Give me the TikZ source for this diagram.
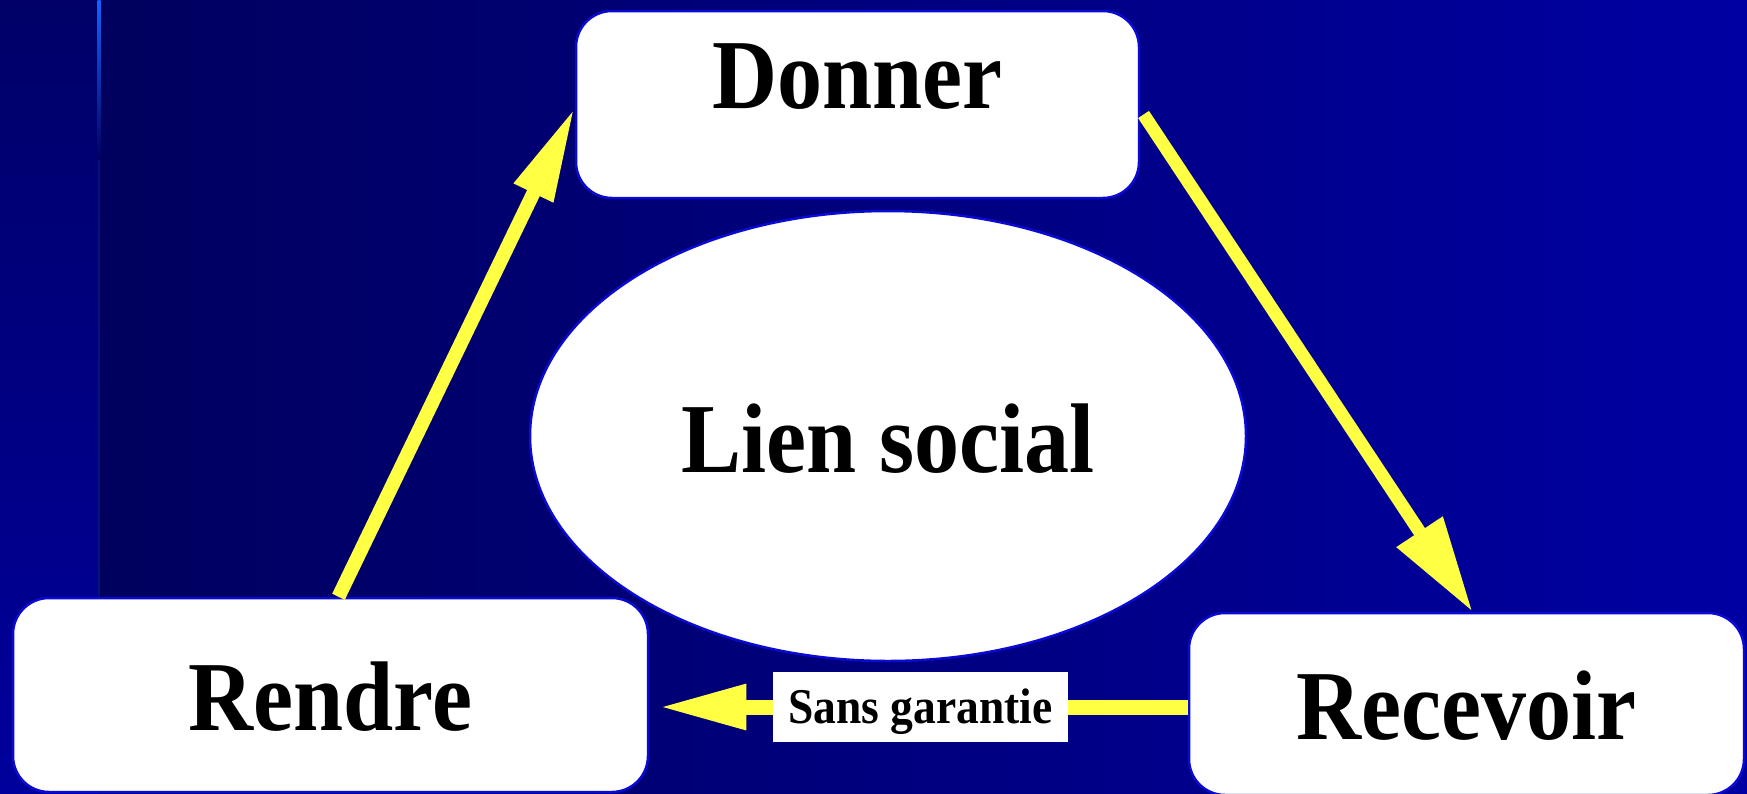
\documentclass[tikz,border=0pt]{standalone}
\usepackage{fontspec}
\setmainfont{Liberation Serif}
\newfontfamily\tallserif[FakeStretch=0.91]{Liberation Serif}
\usetikzlibrary{arrows.meta,shapes.geometric}
\definecolor{bgL}{RGB}{0,0,94}
\definecolor{bgR}{RGB}{0,0,162}
\definecolor{stripT}{RGB}{0,0,104}
\definecolor{stripB}{RGB}{0,0,156}
\definecolor{edgeblue}{RGB}{10,10,210}
\definecolor{gold}{RGB}{255,255,68}
\definecolor{glow}{RGB}{20,100,255}
\begin{document}
\begin{tikzpicture}[x=1pt,y=-1pt,
  box/.style={draw=edgeblue, line width=2.5pt, fill=white, rounded corners=36pt,
    inner sep=0pt, font=\tallserif\fontsize{99}{99}\selectfont\bfseries},
  oval/.style={ellipse, draw=edgeblue, line width=2.5pt, fill=white, inner sep=0pt,
    minimum width=716pt, minimum height=450pt, text height=72pt, text depth=0pt,
    font=\tallserif\fontsize{99}{99}\selectfont\bfseries},
  arr/.style={draw=gold, line width=14pt},
  tag/.style={fill=white, inner sep=0pt, minimum width=295pt, text height=51pt,
    text depth=19pt, font=\tallserif\fontsize{50}{50}\selectfont\bfseries}]
% background
\useasboundingbox (0,0) rectangle (1747,793);
\shade[left color=bgL, right color=bgR] (99,0) rectangle (1747,793);
\shade[top color=stripT, bottom color=stripB] (0,0) rectangle (99,793);
\shade[top color=glow, bottom color=bgL] (97.5,0) rectangle (100.5,160);
\fill[bgL!80!glow] (98.3,160) rectangle (99.7,650);
% nodes
\node[box, minimum width=563pt, text height=97pt, text depth=90pt] (donner) at (857.5,104.5) {Donner};
\node[box, minimum width=635pt, text height=132pt, text depth=62pt] (rendre) at (330.5,695) {Rendre};
\node[box, minimum width=555pt, text height=126pt, text depth=56pt] (recevoir) at (1466.5,704) {Recevoir};
\node[oval] (lien) at (888,436) {Lien social};
\coordinate (lblc) at (920.5,707);
% connectors
\draw[arr, -{Triangle[length=95pt,width=40pt]}] ([xshift=8pt]rendre.north) -- ([yshift=-3pt]donner.west);
\draw[arr, line width=13pt, -{Triangle[length=96pt,width=52pt]}, shorten <=6pt] ([yshift=-5pt]donner.east) -- ([xshift=6pt]recevoir.north);
\draw[arr, line width=15pt, -{Triangle[length=88pt,width=42pt]}, shorten >=9pt] (recevoir.west |- lblc) -- (rendre.east |- lblc);
\node[tag] (lbl) at (lblc) {Sans garantie};
\end{tikzpicture}
\end{document}
